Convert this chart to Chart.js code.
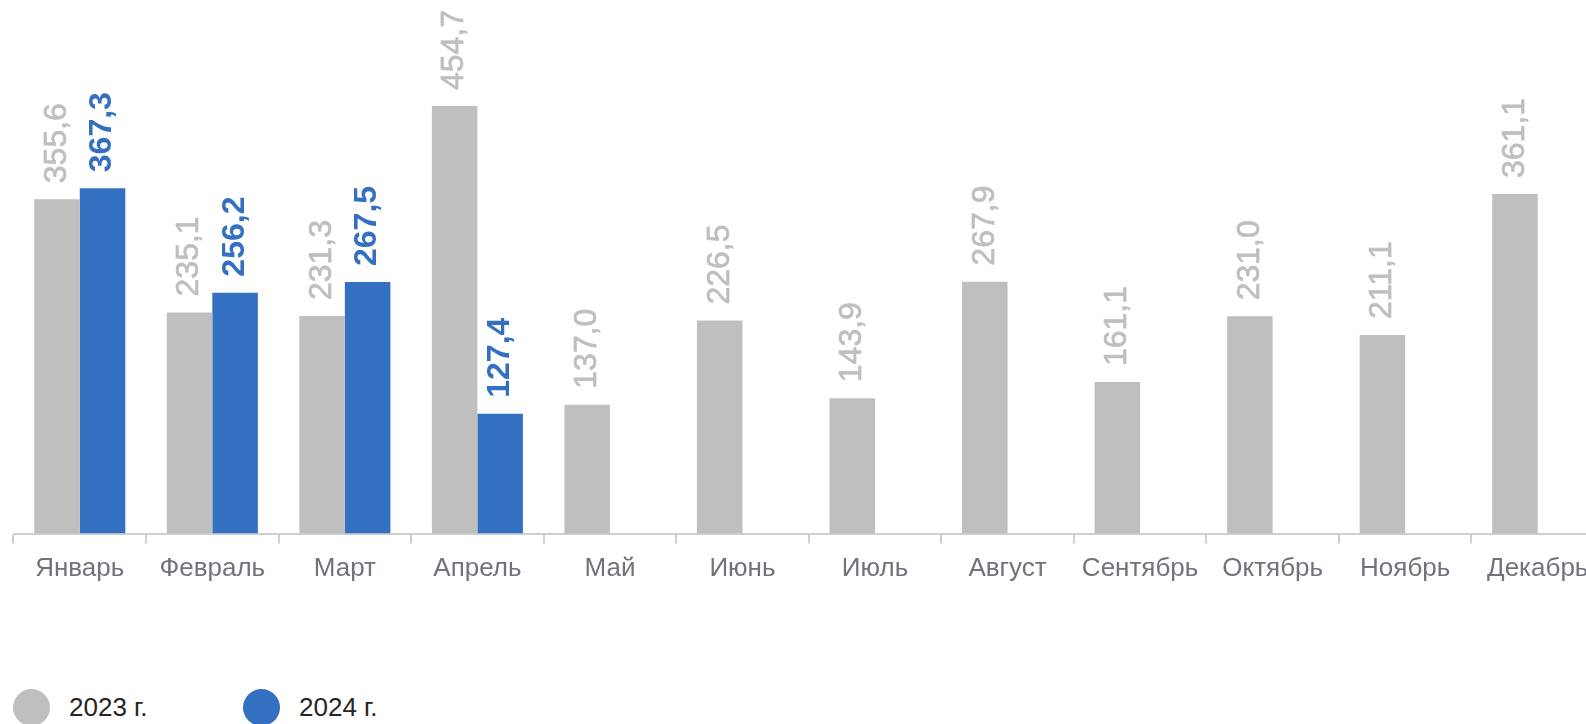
<!DOCTYPE html>
<html>
<head>
<meta charset="utf-8">
<script src="https://cdn.jsdelivr.net/npm/chart.js@4.4.1/dist/chart.umd.min.js"></script>
<style>
  html, body { margin: 0; padding: 0; background: #ffffff; overflow: hidden; width: 1586px; height: 724px; }
  #wrap { position: absolute; left: 0; top: 0; width: 1604px; height: 600px; }
  .leg { position: absolute; top: 689px; height: 37px; display: flex; align-items: center; font-family: "Liberation Sans", Arial, sans-serif; font-size: 26px; color: #262626; white-space: nowrap; }
  .dot { width: 37px; height: 37px; border-radius: 50%; margin-right: 19px; flex: none; }
</style>
</head>
<body>
<div id="wrap"><canvas id="c" width="1604" height="600"></canvas></div>
<div class="leg" style="left:13px"><span class="dot" style="background:#bfbfbf"></span><span id="l1"></span></div>
<div class="leg" style="left:243px"><span class="dot" style="background:#3470c1"></span><span id="l2"></span></div>
<script>
const months = ['Январь','Февраль','Март','Апрель','Май','Июнь','Июль','Август','Сентябрь','Октябрь','Ноябрь','Декабрь'];
const seriesNames = ['2023 г.', '2024 г.'];
const values2023 = [355.6, 235.1, 231.3, 454.7, 137.0, 226.5, 143.9, 267.9, 161.1, 231.0, 211.1, 361.1];
const values2024 = [367.3, 256.2, 267.5, 127.4, null, null, null, null, null, null, null, null];
const colors = ['#bfbfbf', '#3470c1'];

document.getElementById('l1').textContent = seriesNames[0];
document.getElementById('l2').textContent = seriesNames[1];

const labelPlugin = {
  id: 'valueLabels',
  afterDatasetsDraw(chart) {
    const ctx = chart.ctx;
    chart.data.datasets.forEach((ds, di) => {
      const meta = chart.getDatasetMeta(di);
      meta.data.forEach((bar, i) => {
        const v = ds.data[i];
        if (v === null || v === undefined) return;
        const txt = v.toFixed(1).replace('.', ',');
        ctx.save();
        ctx.translate(bar.x, bar.y - 16);
        ctx.rotate(-Math.PI / 2);
        ctx.font = (di === 1 ? 'bold ' : '') + '32px "Liberation Sans", Arial, sans-serif';
        ctx.fillStyle = colors[di];
        ctx.textAlign = 'left';
        ctx.textBaseline = 'middle';
        ctx.fillText(txt, 0, 0);
        if (di === 0) {
          ctx.strokeStyle = colors[di];
          ctx.lineWidth = 0.7;
          ctx.strokeText(txt, 0, 0);
        }
        ctx.restore();
      });
    });
  }
};

new Chart(document.getElementById('c'), {
  type: 'bar',
  data: {
    labels: months,
    datasets: [
      { label: seriesNames[0], data: values2023, backgroundColor: colors[0], barPercentage: 1, categoryPercentage: 0.687 },
      { label: seriesNames[1], data: values2024, backgroundColor: colors[1], barPercentage: 1, categoryPercentage: 0.687 }
    ]
  },
  options: {
    responsive: false,
    animation: false,
    layout: { padding: { left: 13.5, right: 0, top: 7, bottom: 0 } },
    plugins: { legend: { display: false }, tooltip: { enabled: false } },
    scales: {
      x: {
        grid: { display: true, drawOnChartArea: false, drawTicks: true, tickLength: 10, color: '#cfcfcf', lineWidth: 2, offset: true },
        border: { display: true, color: '#cfcfcf', width: 2 },
        ticks: { color: '#6f737d', padding: 10, maxRotation: 0, autoSkip: false, font: { family: '"Liberation Sans", Arial, sans-serif', size: 26 } },
        afterFit(axis) { axis.height = 66.5; }
      },
      y: { display: false, min: 0, max: 560 }
    }
  },
  plugins: [labelPlugin]
});
</script>
</body>
</html>
